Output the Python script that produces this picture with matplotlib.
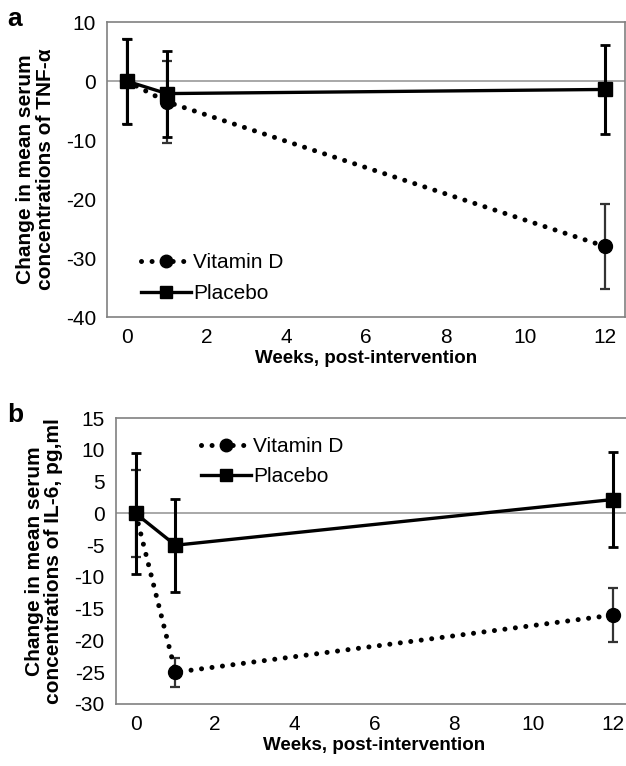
import numpy as np
import matplotlib
matplotlib.use('Agg')
import matplotlib.pyplot as plt
from matplotlib.lines import Line2D

plt.rcParams['font.family'] = ['Liberation Sans', 'DejaVu Sans']
plt.rcParams['axes.unicode_minus'] = False

# --- data ---
weeks = [0, 1, 12]

# panel a : TNF-alpha
tnf_vitd = [0, -3.5, -28.0]
tnf_vitd_err = [7.2, 6.9, 7.2]
tnf_plac = [0, -2.1, -1.4]
tnf_plac_err = [7.2, 7.3, 7.6]

# panel b : IL-6
il6_vitd = [0, -25.0, -16.0]
il6_vitd_err = [6.8, 2.3, 4.3]
il6_plac = [0, -5.0, 2.2]
il6_plac_err = [9.6, 7.3, 7.5]

xticks = [0, 2, 4, 6, 8, 10, 12]
ylabel_a = 'Change in mean serum\nconcentrations of TNF-\u03b1'
ylabel_b = 'Change in mean serum\nconcentrations of IL-6, pg,ml'

fig = plt.figure(figsize=(6.26, 7.66), dpi=100)
ax_a = fig.add_axes([0.171, 0.586, 0.827, 0.385])
ax_b = fig.add_axes([0.185, 0.081, 0.826, 0.373])

dotted = (0, (0.01, 2.1))

def draw(ax, vd, vd_err, pl, pl_err, ylim, yticks, ylabel):
	ax.axhline(0, color='#999999', lw=1.2, zorder=1)
	ax.errorbar(weeks, vd, yerr=vd_err, color='black', ecolor='#333333', elinewidth=1.6,
		capsize=3.5, capthick=1.6, lw=3.6, ls=dotted, dash_capstyle='round',
		marker='o', ms=10, zorder=3)
	ax.errorbar(weeks, pl, yerr=pl_err, color='black', ecolor='black', elinewidth=2.2,
		capsize=3.5, capthick=2, lw=2.4, ls='-', marker='s', ms=10, zorder=4)
	ax.set_xlim(-0.5, 12.5)
	ax.set_ylim(*ylim)
	ax.set_xticks(xticks)
	ax.set_yticks(yticks)
	ax.tick_params(axis='both', length=0, labelsize=15, pad=8)
	for s in ax.spines.values():
		s.set_color('#808080')
		s.set_linewidth(1.2)
	ax.set_xlabel('Weeks, post-intervention', fontsize=13.5, fontweight='bold', labelpad=2)
	ax.set_ylabel(ylabel, fontsize=15, fontweight='bold', labelpad=8, linespacing=1.05)

draw(ax_a, tnf_vitd, tnf_vitd_err, tnf_plac, tnf_plac_err, (-40, 10), np.arange(-40, 11, 10), ylabel_a)
draw(ax_b, il6_vitd, il6_vitd_err, il6_plac, il6_plac_err, (-30, 15), np.arange(-30, 16, 5), ylabel_b)

handles = [
	Line2D([], [], color='black', lw=3.6, ls=dotted, dash_capstyle='round', marker='o', ms=9),
	Line2D([], [], color='black', lw=2.4, ls='-', marker='s', ms=9),
]
ax_a.legend(handles, ['Vitamin D', 'Placebo'], loc='lower left', bbox_to_anchor=(0.03, -0.015),
	frameon=False, fontsize=15, handlelength=2.4, handletextpad=0.1, labelspacing=0.55)
ax_b.legend(handles, ['Vitamin D', 'Placebo'], loc='upper left', bbox_to_anchor=(0.128, 1.0),
	frameon=False, fontsize=15, handlelength=2.4, handletextpad=0.1, labelspacing=0.55)

fig.text(0.012, 0.975, 'a', fontsize=19, fontweight='bold', va='center')
fig.text(0.012, 0.458, 'b', fontsize=19, fontweight='bold', va='center')

fig.savefig('out.png', dpi=100)
